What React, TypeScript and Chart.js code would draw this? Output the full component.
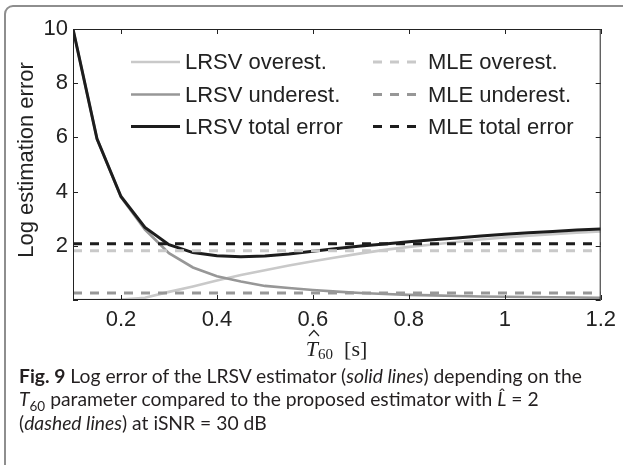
import { useEffect, useRef } from "react";
import { Chart, registerables } from "chart.js";

Chart.register(...registerables);

// Reverberation time estimate (s) at which the LRSV estimator was evaluated
const t60 = [0.1, 0.15, 0.2, 0.25, 0.3, 0.35, 0.4, 0.45, 0.5, 0.55, 0.6, 0.65, 0.7, 0.75, 0.8, 0.85, 0.9, 0.95, 1.0, 1.05, 1.1, 1.15, 1.2];

// LRSV estimator log errors
const lrsvOverest = [0.0, 0.0, 0.02, 0.08, 0.3, 0.5, 0.72, 0.92, 1.1, 1.27, 1.43, 1.58, 1.72, 1.85, 1.96, 2.05, 2.14, 2.23, 2.31, 2.37, 2.43, 2.48, 2.53];
const lrsvUnderest = [10.0, 5.95, 3.8, 2.6, 1.73, 1.2, 0.88, 0.68, 0.52, 0.44, 0.37, 0.31, 0.26, 0.22, 0.19, 0.17, 0.15, 0.13, 0.12, 0.11, 0.1, 0.09, 0.08];
const lrsvTotal = [10.0, 5.95, 3.82, 2.68, 2.04, 1.75, 1.63, 1.6, 1.62, 1.7, 1.8, 1.9, 1.99, 2.07, 2.15, 2.22, 2.29, 2.36, 2.43, 2.48, 2.53, 2.58, 2.62];

// MLE errors do not depend on T60: constant over the whole range
const mleRange = [0.1, 1.2];
const mleOverest = 1.82;
const mleUnderest = 0.26;
const mleTotal = 2.08;

const xTicks = [0.2, 0.4, 0.6, 0.8, 1, 1.2];
const yTicks = [0, 2, 4, 6, 8, 10];

const SANS = "'Liberation Sans', Arial, Helvetica, sans-serif";
const SERIF = "'Liberation Serif', 'DejaVu Serif', serif";
const INK = "#222222";
const LIGHT = "#c9c9c9";
const MID = "#979797";
const DARK = "#1d1d1d";

const curve = (ys: number[]) => t60.map((x, i) => ({ x, y: ys[i] }));
const flat = (y: number) => mleRange.map((x) => ({ x, y }));

// Inward ticks on all four sides plus the surrounding box
const boxPlugin = {
  id: "box",
  afterDatasetsDraw(chart: any) {
    const { ctx, chartArea: a, scales } = chart;
    const len = 5;
    ctx.save();
    ctx.strokeStyle = INK;
    ctx.lineWidth = 1;
    ctx.strokeRect(a.left + 0.5, a.top + 0.5, a.right - a.left - 1, a.bottom - a.top - 1);
    ctx.beginPath();
    xTicks.forEach((v) => {
      const x = Math.round(scales.x.getPixelForValue(v)) + 0.5;
      ctx.moveTo(x, a.bottom);
      ctx.lineTo(x, a.bottom - len);
      ctx.moveTo(x, a.top);
      ctx.lineTo(x, a.top + len);
    });
    yTicks.forEach((v) => {
      const y = Math.round(scales.y.getPixelForValue(v)) + 0.5;
      ctx.moveTo(a.left, y);
      ctx.lineTo(a.left + len, y);
      ctx.moveTo(a.right, y);
      ctx.lineTo(a.right - len, y);
    });
    ctx.stroke();
    ctx.restore();
  },
};

// Axis titles: y label in sans, x label as the math symbol T-hat sub 60 [s]
const titlePlugin = {
  id: "titles",
  afterDraw(chart: any) {
    const { ctx, chartArea: a } = chart;
    ctx.save();
    ctx.fillStyle = INK;
    ctx.font = `22px ${SANS}`;
    ctx.textAlign = "center";
    ctx.textBaseline = "alphabetic";
    ctx.translate(33, (a.top + a.bottom) / 2 - 4.5);
    ctx.rotate(-Math.PI / 2);
    ctx.fillText("Log estimation error", 0, 0);
    ctx.restore();

    const cx = (a.left + a.right) / 2;
    const base = a.bottom + 56;
    let x = cx - 31;
    ctx.save();
    ctx.fillStyle = INK;
    ctx.textAlign = "left";
    ctx.textBaseline = "alphabetic";
    ctx.font = `italic 22px ${SERIF}`;
    ctx.fillText("T", x, base);
    const tw = ctx.measureText("T").width;
    // hat over the T
    ctx.strokeStyle = INK;
    ctx.lineWidth = 1.2;
    ctx.beginPath();
    const hx = x + tw / 2 + 2;
    ctx.moveTo(hx - 5, base - 20);
    ctx.lineTo(hx, base - 25.5);
    ctx.lineTo(hx + 5, base - 20);
    ctx.stroke();
    x += tw;
    ctx.font = `15px ${SERIF}`;
    ctx.fillText("60", x, base + 3);
    x += ctx.measureText("60").width + 11;
    ctx.font = `22px ${SERIF}`;
    ctx.fillText("[s]", x, base);
    ctx.restore();
  },
};

// Two-column legend drawn inside the plot area
const legendPlugin = {
  id: "twoColLegend",
  afterDraw(chart: any) {
    const { ctx, chartArea: a } = chart;
    const sets = chart.data.datasets;
    const cols = [
      { line: a.left + 58, text: a.left + 112 },
      { line: a.left + 300, text: a.left + 355 },
    ];
    const rows = [a.top + 33, a.top + 65.5, a.top + 97.5];
    ctx.save();
    ctx.font = `22px ${SANS}`;
    ctx.textBaseline = "middle";
    ctx.textAlign = "left";
    sets.forEach((ds: any) => {
      const c = cols[ds.legendCol];
      const y = rows[ds.legendRow];
      ctx.strokeStyle = ds.borderColor;
      ctx.lineWidth = ds.borderWidth;
      ctx.setLineDash(ds.borderDash || []);
      ctx.beginPath();
      ctx.moveTo(c.line, y);
      ctx.lineTo(c.line + 49, y);
      ctx.stroke();
      ctx.setLineDash([]);
      ctx.fillStyle = INK;
      ctx.fillText(ds.label, c.text, y + 1);
    });
    ctx.restore();
  },
};

function FigureChart() {
  const ref = useRef<HTMLCanvasElement | null>(null);
  useEffect(() => {
    if (!ref.current) return;
    const dash = [9, 8];
    const chart = new Chart(ref.current, {
      type: "line",
      data: {
        datasets: [
          { label: "MLE total error", data: flat(mleTotal), borderColor: DARK, borderWidth: 3, borderDash: dash, order: 1, legendCol: 1, legendRow: 2 } as any,
          { label: "MLE underest.", data: flat(mleUnderest), borderColor: MID, borderWidth: 3, borderDash: dash, order: 2, legendCol: 1, legendRow: 1 } as any,
          { label: "MLE overest.", data: flat(mleOverest), borderColor: LIGHT, borderWidth: 3, borderDash: dash, order: 3, legendCol: 1, legendRow: 0 } as any,
          { label: "LRSV total error", data: curve(lrsvTotal), borderColor: DARK, borderWidth: 3, order: 4, legendCol: 0, legendRow: 2 } as any,
          { label: "LRSV underest.", data: curve(lrsvUnderest), borderColor: MID, borderWidth: 2.6, order: 5, legendCol: 0, legendRow: 1 } as any,
          { label: "LRSV overest.", data: curve(lrsvOverest), borderColor: LIGHT, borderWidth: 2.6, order: 6, legendCol: 0, legendRow: 0 } as any,
        ],
      },
      options: {
        responsive: false,
        animation: false,
        devicePixelRatio: 1,
        layout: { padding: { left: 0, right: 19, top: 29, bottom: 0 } },
        elements: { point: { radius: 0 }, line: { tension: 0, borderCapStyle: "butt" } },
        plugins: { legend: { display: false }, tooltip: { enabled: false } },
        scales: {
          x: {
            type: "linear",
            min: 0.1,
            max: 1.2,
            grid: { display: false, drawTicks: false },
            border: { display: false },
            ticks: {
              color: INK,
              font: { family: SANS, size: 22 },
              padding: 7,
              maxRotation: 0,
              autoSkip: false,
              callback: (v: any) => String(Math.round(Number(v) * 10) / 10),
            },
            afterBuildTicks: (s: any) => {
              s.ticks = xTicks.map((value) => ({ value }));
            },
            afterFit: (s: any) => {
              s.height = 65;
            },
          },
          y: {
            type: "linear",
            min: 0,
            max: 10,
            grid: { display: false, drawTicks: false },
            border: { display: false },
            ticks: {
              color: INK,
              font: { family: SANS, size: 22 },
              padding: 5,
              autoSkip: false,
              callback: (v: any) => (Number(v) === 0 ? "" : String(v)),
            },
            afterBuildTicks: (s: any) => {
              s.ticks = yTicks.map((value) => ({ value }));
            },
            afterFit: (s: any) => {
              s.width = 73;
            },
          },
        },
      },
      plugins: [boxPlugin, titlePlugin, legendPlugin],
    } as any);
    return () => chart.destroy();
  }, []);
  return <canvas ref={ref} width={623} height={365} style={{ display: "block", position: "absolute", left: 0, top: 0 }} />;
}

export default function App() {
  const capFont = "'Lato', 'Noto Sans', sans-serif";
  return (
    <div
      style={{
        position: "fixed",
        left: 0,
        top: 0,
        width: 623,
        height: 465,
        overflow: "hidden",
        background: "#fff",
      }}
    >
      <div
        style={{
          position: "absolute",
          left: 4,
          top: 5,
          width: 700,
          height: 500,
          border: "2px solid #8e8e8e",
          borderTopLeftRadius: 9,
          boxSizing: "border-box",
        }}
      />
      <FigureChart />
      <div
        style={{
          position: "absolute",
          left: 19,
          top: 364,
          fontFamily: capFont,
          fontSize: 19.3,
          lineHeight: "23.3px",
          color: "#231f20",
          whiteSpace: "nowrap",
        }}
      >
        <b>Fig. 9</b> Log error of the LRSV estimator (<i>solid lines</i>) depending on the
        <br />
        <i>T</i>
        <sub style={{ fontSize: "0.7em", lineHeight: 0 }}>60</sub> parameter compared to the proposed estimator with <i>L̂</i> = 2
        <br />
        (<i>dashed lines</i>) at iSNR = 30 dB
      </div>
    </div>
  );
}
